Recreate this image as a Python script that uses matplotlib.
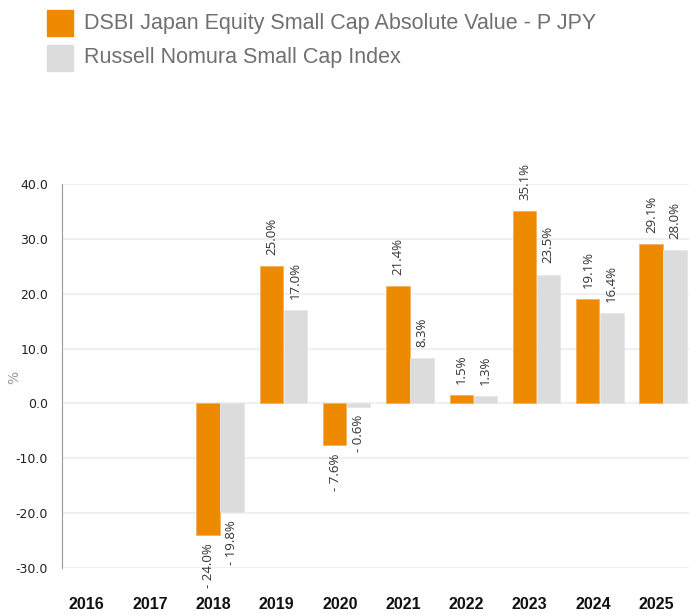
import numpy as np
import matplotlib
matplotlib.use('Agg')
import matplotlib.pyplot as plt
from matplotlib.patches import Rectangle

years = ['2016', '2017', '2018', '2019', '2020', '2021', '2022', '2023', '2024', '2025']
fund = [np.nan, np.nan, -24.0, 25.0, -7.6, 21.4, 1.5, 35.1, 19.1, 29.1]
index = [np.nan, np.nan, -19.8, 17.0, -0.6, 8.3, 1.3, 23.5, 16.4, 28.0]
fund_name = 'DSBI Japan Equity Small Cap Absolute Value - P JPY'
index_name = 'Russell Nomura Small Cap Index'
yticks = [-30, -20, -10, 0, 10, 20, 30, 40]

orange = '#ee8a00'
grey = '#dcdcdc'

fig = plt.figure(figsize=(6.89, 6.15), dpi=100)
ax = fig.add_axes([62/689, 1 - 568/615, 1 - 62/689, (568 - 184)/615])

x = np.arange(len(years))
w = 0.37
ax.bar(x - w/2 - 0.005, fund, w, color=orange, edgecolor='#f5b060', linewidth=0.6, zorder=3)
ax.bar(x + w/2 + 0.005, index, w, color=grey, edgecolor='#e6e6e6', linewidth=0.6, zorder=3)

def label(xs, vals):
    for xi, v in zip(xs, vals):
        if np.isnan(v):
            continue
        if v >= 0:
            ax.annotate('%.1f%%' % v, (xi, v), xytext=(0, 8), textcoords='offset points',
                        rotation=90, ha='center', va='bottom', fontsize=9.5,
                        family='Open Sans', color='#333333')
        else:
            ax.annotate('- %.1f%%' % abs(v), (xi, v), xytext=(0, -6), textcoords='offset points',
                        rotation=90, ha='center', va='top', fontsize=9.5,
                        family='Open Sans', color='#333333')

label(x - w/2, fund)
label(x + w/2, index)

ax.set_xlim(-0.5, 9.41)
ax.set_ylim(-30, 40)
ax.set_yticks(yticks)
ax.set_yticklabels(['%.1f' % t for t in yticks], fontsize=9, color='#222222')
ax.tick_params(axis='y', length=0, pad=10)
ax.set_xticks([])
for xi, yr in zip(x, years):
    ax.text(xi - 0.11, -36.7, yr, ha='center', va='center', fontsize=11.5,
            fontweight='bold', family='Liberation Sans', color='#111111')

ax.grid(axis='y', color='#eeeeee', linewidth=1.2, zorder=0)
for s in ['top', 'right', 'bottom']:
    ax.spines[s].set_visible(False)
ax.spines['left'].set_color('#999999')
fig.text(14/689, 1 - 377/615, '%', rotation=90, ha='center', va='center',
         color='#999999', fontsize=10)

# legend drawn at the top
for i, (c, name) in enumerate([(orange, fund_name), (grey, index_name)]):
    y0 = 1 - (10 + 35*i) / 615
    fig.patches.append(Rectangle((47/689, y0 - 26/615), 26/689, 26/615,
                                 transform=fig.transFigure, color=c))
    fig.text(84/689, y0 - 13/615, name, ha='left', va='center', fontsize=15.5,
             family='Liberation Sans', color='#707070')

fig.savefig('out.png', dpi=100)
